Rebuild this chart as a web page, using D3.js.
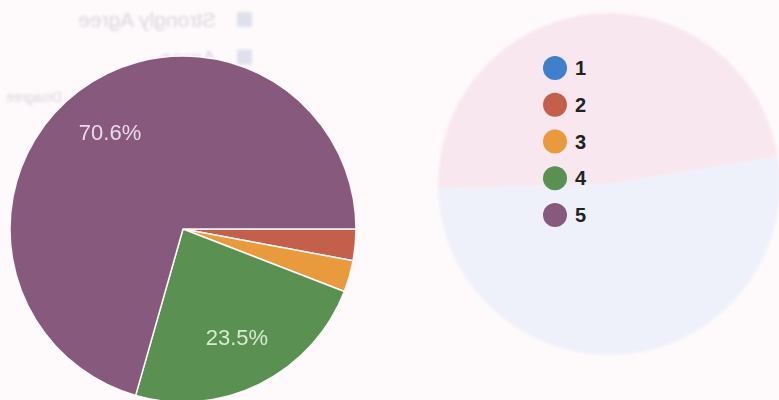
<!DOCTYPE html>
<html>
<head>
<meta charset="utf-8">
<script src="https://cdn.jsdelivr.net/npm/d3@7"></script>
<style>
  html, body { margin: 0; padding: 0; background: #fefafc; }
  svg { display: block; }
</style>
</head>
<body>
<svg id="chart" width="779" height="400"></svg>
<script>
// ---- data ----
const categories = ["1", "2", "3", "4", "5"];
const counts = [0, 1, 1, 8, 24];
const sliceColors = ["#3f7fcb", "#c45f4b", "#e99a3d", "#5b9053", "#86597d"];
const percentLabels = ["0%", "2.9%", "2.9%", "23.5%", "70.6%"];
// faint show-through from the reverse of the page
const ghostLegend = ["Strongly Agree", "Agree", "Disagree"];
const ghostShares = [47.8, 52.2];
const ghostColors = ["#f8e7ef", "#eff1fa"];

const svg = d3.select("#chart");

const defs = svg.append("defs");
defs.append("filter").attr("id", "soft")
  .append("feGaussianBlur").attr("stdDeviation", 1.4);

// ---- ghost legend text (mirrored) ----
const ghostG = svg.append("g").attr("filter", "url(#soft)");
const gy = d3.scalePoint().domain(ghostLegend).range([20, 95]);
ghostLegend.forEach((t, i) => {
  ghostG.append("text")
    .attr("transform", `translate(${i === 2 ? 62 : 216},${gy(t) + 7}) scale(-1,1)`)
    .attr("font-family", "Liberation Sans, Arial, sans-serif")
    .attr("font-size", i === 2 ? 14 : 21)
    .attr("fill", "#ddd4dd")
    .text(t);
  ghostG.append("rect")
    .attr("x", 237).attr("y", gy(t) - 8)
    .attr("width", 15).attr("height", 15)
    .attr("fill", "#e0e0ec");
});

// ---- ghost pie on the right ----
const gcx = 609, gcy = 184, gr = 171;
const gArcs = d3.pie().sort(null)
  .startAngle(-91.4 * Math.PI / 180)
  .endAngle(268.6 * Math.PI / 180)(ghostShares);
const gArc = d3.arc().innerRadius(0).outerRadius(gr);
svg.append("g")
  .attr("transform", `translate(${gcx},${gcy})`)
  .attr("filter", "url(#soft)")
  .selectAll("path")
  .data(gArcs)
  .join("path")
  .attr("d", gArc)
  .attr("fill", (d, i) => ghostColors[i]);

// ---- main pie ----
const cx = 183, cy = 229, r = 173;
const color = d3.scaleOrdinal().domain(categories).range(sliceColors);
const pie = d3.pie().sort(null).value(d => d.v)
  .startAngle(Math.PI / 2).endAngle(Math.PI / 2 + 2 * Math.PI);
const data = categories.map((c, i) => ({ c, v: counts[i], label: percentLabels[i] }));
const arcs = pie(data);
const arc = d3.arc().innerRadius(0).outerRadius(r);
const labelArc = d3.arc().innerRadius(r * 0.7).outerRadius(r * 0.7);

const pg = svg.append("g").attr("transform", `translate(${cx},${cy})`);
pg.selectAll("path")
  .data(arcs.filter(d => d.data.v > 0))
  .join("path")
  .attr("d", arc)
  .attr("fill", d => color(d.data.c))
  .attr("stroke", "#fbf6f8")
  .attr("stroke-width", 1.5)
  .attr("stroke-linejoin", "round");

const total = d3.sum(counts);
const labelFill = { "4": "#d6ebcf", "5": "#ecd9ea" };
pg.selectAll("text.pct")
  .data(arcs.filter(d => d.data.v / total > 0.05))
  .join("text")
  .attr("class", "pct")
  .attr("transform", d => { const [x, y] = labelArc.centroid(d); return `translate(${x},${y})`; })
  .attr("text-anchor", "middle")
  .attr("dy", "0.36em")
  .attr("font-family", "Liberation Sans, Arial, sans-serif")
  .attr("font-size", 22)
  .attr("fill", d => labelFill[d.data.c])
  .text(d => d.data.label);

// ---- legend ----
const ly = d3.scalePoint().domain(categories).range([68, 215]);
const items = svg.append("g").selectAll("g").data(categories).join("g")
  .attr("transform", d => `translate(555,${ly(d)})`);
items.append("circle")
  .attr("r", 12)
  .attr("fill", d => color(d));
items.append("text")
  .attr("x", 20).attr("y", 7)
  .attr("font-family", "Liberation Sans, Arial, sans-serif")
  .attr("font-weight", "bold")
  .attr("font-size", 20)
  .attr("fill", "#222")
  .text(d => d);
</script>
</body>
</html>
